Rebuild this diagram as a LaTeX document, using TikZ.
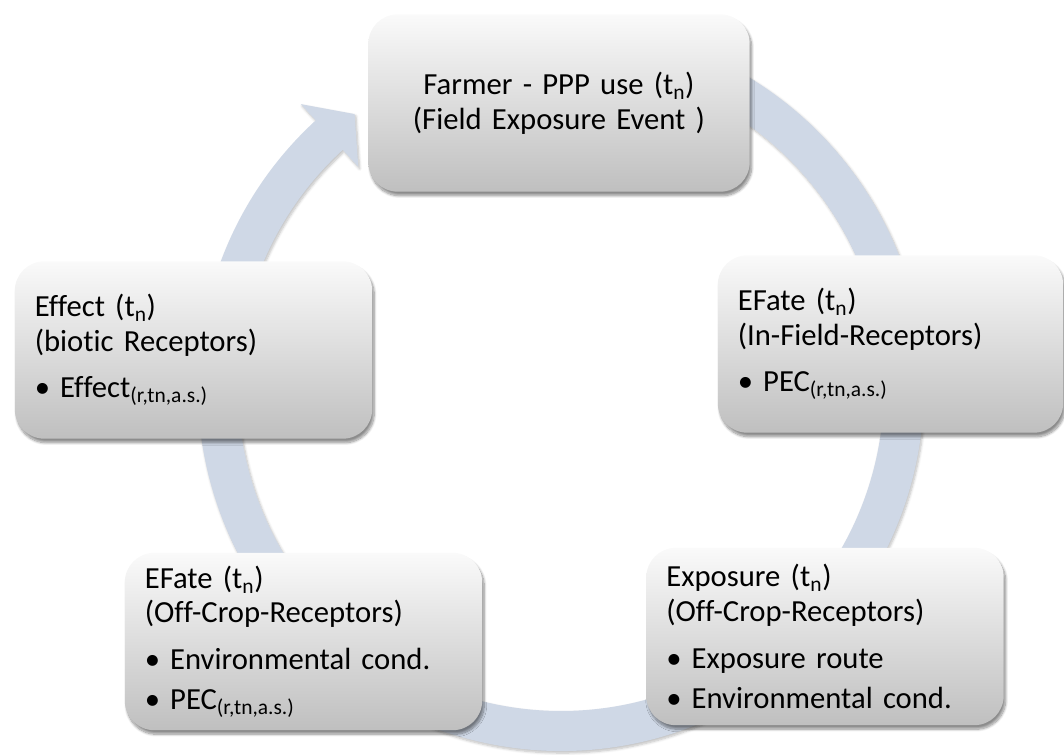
\documentclass[tikz,border=0pt]{standalone}
\usepackage{fontspec}
\setmainfont{Carlito}[Ligatures = NoCommon, WordSpace = 0.85]
\usetikzlibrary{shadows.blur}
\definecolor{ringblue}{RGB}{207,216,230}
\newcommand{\itm}{\makebox[19pt][l]{\textbullet}}
\tikzset{box/.style = {rectangle, rounded corners = 22pt,
                       top color = gray!4, bottom color = gray!50,
                       minimum width = 268pt, minimum height = 133pt,
                       text width = 238pt, inner xsep = 15pt, align = left,
                       font = \fontsize{23}{26}\selectfont,
                       blur shadow = {shadow xshift = 1.5pt, shadow yshift = -3pt,
                                      shadow blur steps = 10, shadow opacity = 45}}}
\tikzset{ring/.style = {fill = ringblue,
                        blur shadow = {shadow xshift = 1pt, shadow yshift = -1.5pt,
                                       shadow blur steps = 6, shadow opacity = 25}}}

\begin{document}
\begin{tikzpicture}[x = 0.75pt, y = 0.75pt]
      \useasboundingbox (0, 0) rectangle (1064, 754);
      % circular arrow behind the boxes, running clockwise
      \begin{scope}[shift = {(561, 366)}]
        \fill [ring] (80:363) arc [start angle = 80, end angle = -227.5, radius = 363]
          -- (-227.5:385) -- (-233:343) -- (-227.5:300) -- (-227.5:323)
          arc [start angle = -227.5, end angle = 80, radius = 323] -- cycle;
      \end{scope}
      \node [box, minimum width = 286pt, text width = 256pt, align = center] (farmer) at (559, 651)
        {Farmer - PPP use (t\textsubscript{n})\\(Field Exposure Event )};
      \node [box, minimum width = 259pt, text width = 229pt] (infield) at (890.5, 410)
        {EFate (t\textsubscript{n})\\(In-Field-Receptors)\\[9pt]
         \itm PEC\textsubscript{(r,tn,a.s.)}};
      \node [box] (effect) at (193.5, 404)
        {Effect (t\textsubscript{n})\\(biotic Receptors)\\[9pt]
         \itm Effect\textsubscript{(r,tn,a.s.)}};
      \node [box] (offfate) at (303.5, 112.5)
        {EFate (t\textsubscript{n})\\(Off-Crop-Receptors)\\[9pt]
         \itm Environmental cond.\\[4pt]
         \itm PEC\textsubscript{(r,tn,a.s.)}};
      \node [box] (exposure) at (825, 117.5)
        {Exposure (t\textsubscript{n})\\(Off-Crop-Receptors)\\[9pt]
         \itm Exposure route\\[4pt]
         \itm Environmental cond.};
    \end{tikzpicture}
\end{document}
